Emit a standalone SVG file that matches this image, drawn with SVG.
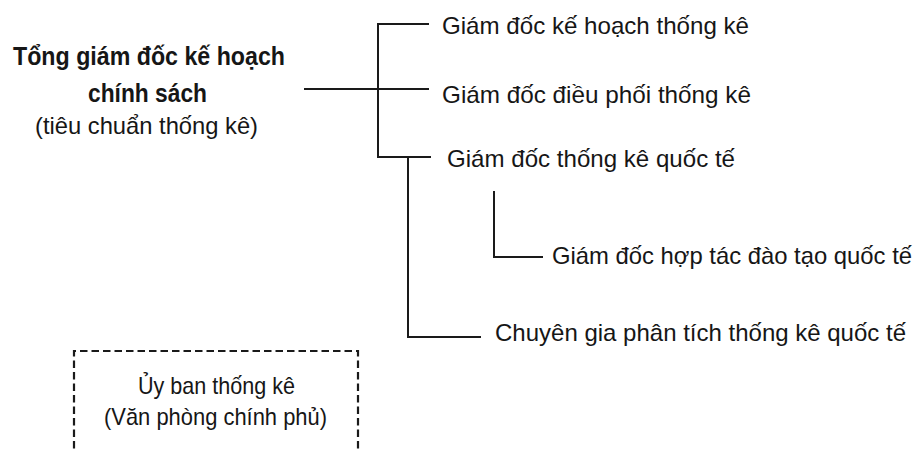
<svg xmlns="http://www.w3.org/2000/svg" width="918" height="450" viewBox="0 0 918 450">
<style>
.t{font-family:"Liberation Sans",Arial,sans-serif;font-size:24px;fill:#161616}
.b{font-weight:bold;font-size:25px}
.m{text-anchor:middle}
.c{fill:none;stroke:#1a1a1a;stroke-width:2}
.d{fill:none;stroke:#1a1a1a;stroke-width:2.2;stroke-dasharray:7.5 4}
</style>
<rect width="918" height="450" fill="#ffffff"/>
<g id="connectors">
<path class="c" d="M429,24 H378 V157 H431"/>
<path class="c" d="M304,89 H429"/>
<path class="c" d="M408,157 V337 H481"/>
<path class="c" d="M494,191 V257 H543"/>
</g>
<g id="n-root">
<text class="t b" x="13" y="65" textLength="272" lengthAdjust="spacingAndGlyphs">Tổng giám đốc kế hoạch</text>
<text class="t b" x="88" y="102" textLength="119" lengthAdjust="spacingAndGlyphs">chính sách</text>
<text class="t" x="35" y="134" textLength="223" lengthAdjust="spacingAndGlyphs">(tiêu chuẩn thống kê)</text>
</g>
<g id="n-plan">
<text class="t" x="442" y="34" textLength="307" lengthAdjust="spacingAndGlyphs">Giám đốc kế hoạch thống kê</text>
</g>
<g id="n-coord">
<text class="t" x="442" y="103" textLength="309" lengthAdjust="spacingAndGlyphs">Giám đốc điều phối thống kê</text>
</g>
<g id="n-intl">
<text class="t" x="447" y="167" textLength="288" lengthAdjust="spacingAndGlyphs">Giám đốc thống kê quốc tế</text>
</g>
<g id="n-train">
<text class="t" x="552" y="264" textLength="360" lengthAdjust="spacingAndGlyphs">Giám đốc hợp tác đào tạo quốc tế</text>
</g>
<g id="n-analyst">
<text class="t" x="495" y="341" textLength="411" lengthAdjust="spacingAndGlyphs">Chuyên gia phân tích thống kê quốc tế</text>
</g>
<g id="n-committee">
<path class="d" d="M74,460 V351 H358 V460"/>
<text class="t" x="138" y="394" textLength="157" lengthAdjust="spacingAndGlyphs">Ủy ban thống kê</text>
<text class="t" x="104" y="425" textLength="223" lengthAdjust="spacingAndGlyphs">(Văn phòng chính phủ)</text>
</g>
</svg>
